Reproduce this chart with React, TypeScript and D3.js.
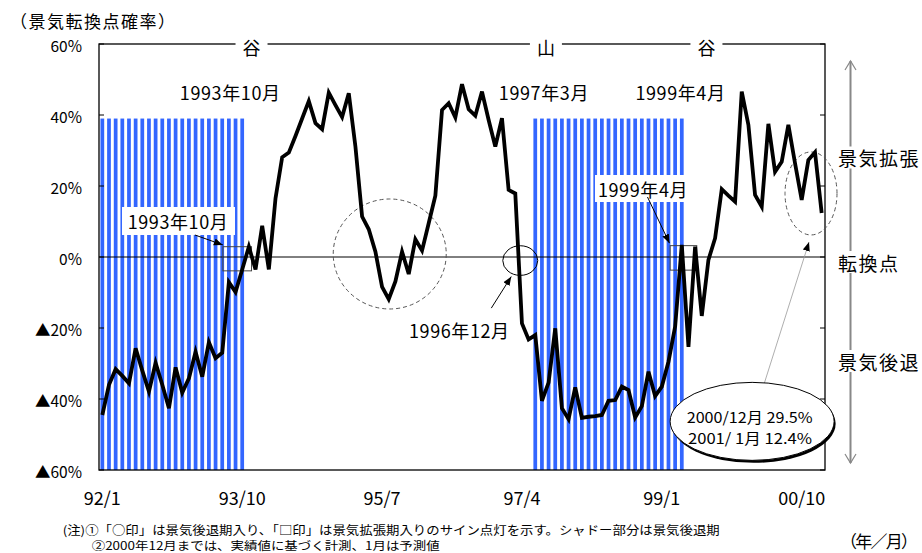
import React from 'react';
import * as d3 from 'd3';

// months 92/1 .. 01/1
const months: string[] = d3.range(109).map((i) => {
  const yr = 1992 + Math.floor(i / 12);
  return `${String(yr).slice(2)}/${(i % 12) + 1}`;
});

const tickLabels = ['92/1', '93/10', '95/7', '97/4', '99/1', '00/10'];
const yTicks = [60, 40, 20, 0, -20, -40, -60];

// 景気転換点確率 (%)
const probability = [
  -44.5, -36, -31.6, -33.5, -35.6, -25.7, -32, -37.9, -29.8, -36,
  -42.6, -31.1, -38.2, -34.2, -26.7, -33.7, -24.0, -28.5, -27.0, -7.1,
  -9.9, -3.5, 2.9, -3.5, 8.8, -3.5, 16.5, 28.1, 29.4, 34.1,
  39, 43.9, 37.7, 36, 46.3, 42.8, 39.4, 46.1, 31.1, 11.4,
  7.8, 1.5, -8.4, -11.9, -6.9, 1.5, -4.8, 5.0, 1.8, 9.5,
  17.3, 41.4, 43.3, 39.3, 48.7, 41.6, 39.8, 46.6, 38.6, 31.1,
  39.1, 18.9, 17.9, -18.7, -23.2, -22.0, -40.5, -35.4, -20.1, -42.6,
  -45.7, -36.7, -45.3, -45.0, -44.8, -44.5, -40.5, -40.3, -36.5, -37.5,
  -45.2, -42.0, -32.3, -39.2, -36.5, -29.5, -19.6, 3.4, -25.3, 2.9,
  -16.6, -0.8, 5.3, 19.1, 17.3, 15.6, 46.6, 37.2, 17.5, 14.2,
  37.5, 24.0, 26.8, 37.2, 26.4, 16.1, 27.3, 29.5, 12.4,
];

// shaded recession periods (景気後退期)
const recessions: [string, string][] = [
  ['92/1', '93/10'],
  ['97/6', '99/4'],
];
const shadeTop = 39;

const font = "'Noto Sans CJK JP', 'Noto Sans CJK SC', sans-serif";

const App: React.FC = () => {
  const width = 922;
  const height = 553;
  const left = 99;
  const right = 825;
  const top = 44;
  const bottom = 470;

  const x = d3.scaleBand<string>().domain(months).range([left, right]);
  const bw = x.bandwidth();
  const y = d3.scaleLinear().domain([-60, 60]).range([bottom, top]);
  // fractional month index -> px, for annotations
  const xi = (i: number) => left + bw * (i + 0.5);

  const shadeMonths = recessions.flatMap(([a, b]) =>
    months.slice(months.indexOf(a), months.indexOf(b) + 1)
  );

  const line = d3
    .line<number>()
    .x((_, i) => (x(months[i]) as number) + bw / 2)
    .y((d) => y(d));

  const barW = bw * 0.56;

  return (
    <svg
      width={width}
      height={height}
      style={{ position: 'absolute', left: 0, top: 0, background: '#fff' }}
      fontFamily={font}
    >
      <defs>
        <marker
          id="ah"
          viewBox="0 0 10 10"
          refX="10"
          refY="5"
          markerUnits="userSpaceOnUse"
          markerWidth="9"
          markerHeight="9"
          orient="auto"
        >
          <path d="M0,1 L10,5 L0,9 z" fill="#000" />
        </marker>
      </defs>

      {/* title */}
      <text x={10} y={20} fontSize={17} letterSpacing={1.5} dominantBaseline="central">
        （景気転換点確率）
      </text>

      {/* shaded stripes */}
      {shadeMonths.map((m) => (
        <rect
          key={m}
          x={(x(m) as number) + (bw - barW) / 2}
          y={y(shadeTop)}
          width={barW}
          height={y(-60) - y(shadeTop)}
          fill="#3366FF"
        />
      ))}

      {/* white backgrounds for labels on the stripes */}
      <rect x={122} y={207} width={113} height={28} fill="#fff" />
      <rect x={595} y={175} width={97} height={27} fill="#fff" />

      {/* zero line */}
      <line x1={left} x2={right} y1={y(0)} y2={y(0)} stroke="#000" strokeWidth={1} />

      {/* frame */}
      <rect x={left} y={top} width={right - left} height={bottom - top} fill="none" stroke="#000" strokeWidth={1.3} />
      {yTicks.map((t) => (
        <g key={t}>
          <line x1={left} x2={left + 5} y1={y(t)} y2={y(t)} stroke="#000" />
          <line x1={right - 5} x2={right} y1={y(t)} y2={y(t)} stroke="#000" />
          <text x={82} y={y(t) + 1} fontSize={15.5} textAnchor="end" dominantBaseline="central">
            {t < 0 ? `▲${-t}%` : `${t}%`}
          </text>
        </g>
      ))}

      {tickLabels.map((t) => (
        <text
          key={t}
          x={(x(t) as number) + bw / 2}
          y={497}
          fontSize={18}
          textAnchor="middle"
          dominantBaseline="central"
        >
          {t}
        </text>
      ))}

      {/* 谷・山 on the top border */}
      {[
        { t: '谷', i: 22.4 },
        { t: '山', i: 66.6 },
        { t: '谷', i: 90.7 },
      ].map((d, k) => (
        <g key={k}>
          <rect x={xi(d.i) - 16} y={top - 10} width={32} height={20} fill="#fff" />
          <text x={xi(d.i)} y={top + 3} fontSize={18} textAnchor="middle" dominantBaseline="central">
            {d.t}
          </text>
        </g>
      ))}

      {/* date labels */}
      <text x={xi(19.2)} y={92} fontSize={18} letterSpacing={0.6} textAnchor="middle" dominantBaseline="central">1993年10月</text>
      <text x={xi(66.3)} y={92} fontSize={18} letterSpacing={0.6} textAnchor="middle" dominantBaseline="central">1997年3月</text>
      <text x={xi(86.8)} y={92} fontSize={18} letterSpacing={0.6} textAnchor="middle" dominantBaseline="central">1999年4月</text>
      <text x={178} y={221} fontSize={18} letterSpacing={0.6} textAnchor="middle" dominantBaseline="central">1993年10月</text>
      <text x={643} y={189} fontSize={18} letterSpacing={0.6} textAnchor="middle" dominantBaseline="central">1999年4月</text>
      <text x={xi(53.6)} y={330} fontSize={18} letterSpacing={0.6} textAnchor="middle" dominantBaseline="central">1996年12月</text>

      {/* square markers (景気拡張期入り) */}
      <rect x={xi(18.1)} y={y(2.9)} width={xi(22.4) - xi(18.1)} height={y(-3.9) - y(2.9)} fill="none" stroke="#444" strokeWidth={1} />
      <rect x={xi(85.25)} y={y(3.2)} width={xi(89.25) - xi(85.25)} height={y(-3.7) - y(3.2)} fill="none" stroke="#444" strokeWidth={1} />

      {/* circle marker (景気後退期入り) */}
      <ellipse cx={xi(62.75)} cy={y(-1)} rx={17.5} ry={14.8} fill="none" stroke="#000" strokeWidth={1} />

      {/* dashed highlight circles */}
      <ellipse cx={xi(43.15)} cy={y(0.85)} rx={56.5} ry={55} fill="none" stroke="#555" strokeWidth={1} strokeDasharray="4,3" />
      <ellipse cx={xi(106.4)} cy={y(17.9)} rx={26} ry={41.5} fill="none" stroke="#555" strokeWidth={1} strokeDasharray="4,3" />

      {/* arrows */}
      <line x1={xi(13.9)} y1={y(6.2)} x2={xi(18.1)} y2={y(3.4)} stroke="#000" strokeWidth={1} markerEnd="url(#ah)" />
      <line x1={xi(81.85)} y1={y(16.9)} x2={xi(85.15)} y2={y(3.9)} stroke="#000" strokeWidth={1} markerEnd="url(#ah)" />
      <line x1={xi(58.4)} y1={y(-14.4)} x2={xi(61.4)} y2={y(-5.5)} stroke="#000" strokeWidth={1} markerEnd="url(#ah)" />
      <line x1={xi(99.4)} y1={y(-35.5)} x2={xi(106.1)} y2={y(4.2)} stroke="#999" strokeWidth={0.8} markerEnd="url(#ah)" />

      {/* data line */}
      <path d={line(probability) || undefined} fill="none" stroke="#000" strokeWidth={3.8} strokeLinejoin="miter" />

      {/* callout ellipse */}
      <ellipse cx={xi(97.56) + 1.5} cy={y(-46.3) + 2.5} rx={82} ry={39} fill="#000" />
      <ellipse cx={xi(97.56)} cy={y(-46.3)} rx={82} ry={39} fill="#fff" stroke="#000" strokeWidth={1} />
      <text x={686.7} y={416.5} fontSize={15} textLength={126} lengthAdjust="spacingAndGlyphs" dominantBaseline="central">
        2000/12月 29.5%
      </text>
      <text x={688} y={437} fontSize={15} textLength={124} lengthAdjust="spacingAndGlyphs" dominantBaseline="central">
        2001/ 1月 12.4%
      </text>

      {/* right-hand scale arrow */}
      <line x1={850.5} x2={850.5} y1={61} y2={463} stroke="#888" strokeWidth={2} />
      <path d="M845,70 L850.5,61 L856,70" fill="none" stroke="#888" strokeWidth={1.2} />
      <path d="M845,454 L850.5,463 L856,454" fill="none" stroke="#888" strokeWidth={1.2} />
      {[
        { t: '景気拡張', yy: 157.5 },
        { t: '転換点', yy: 262 },
        { t: '景気後退', yy: 361 },
      ].map((d) => (
        <g key={d.t}>
          <rect x={845} y={d.yy - 11} width={12} height={22} fill="#fff" />
          <text x={838} y={d.yy} fontSize={19} letterSpacing={1.5} dominantBaseline="central">
            {d.t}
          </text>
        </g>
      ))}

      {/* notes */}
      <text x={62.7} y={529.5} fontSize={12} textLength={657} lengthAdjust="spacingAndGlyphs" dominantBaseline="central">
        (注)①「○印」は景気後退期入り、「□印」は景気拡張期入りのサイン点灯を示す。シャドー部分は景気後退期
      </text>
      <text x={91.7} y={545} fontSize={11.5} textLength={348} lengthAdjust="spacingAndGlyphs" dominantBaseline="central">
        ②2000年12月までは、実績値に基づく計測、1月は予測値
      </text>
      <text x={840} y={540.5} fontSize={17} textLength={78} dominantBaseline="central">
        （年／月）
      </text>
    </svg>
  );
};

export default App;
